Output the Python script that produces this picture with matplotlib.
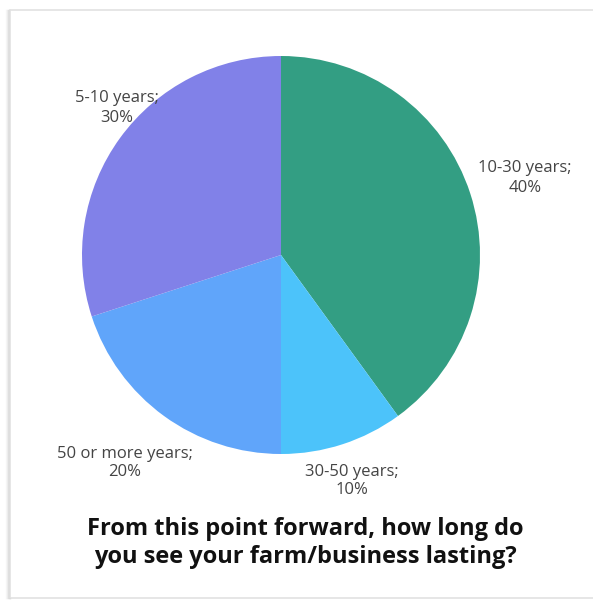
import matplotlib
matplotlib.use("Agg")
import matplotlib.pyplot as plt
from matplotlib.patches import Rectangle

categories = ["10-30 years", "30-50 years", "50 or more years", "5-10 years"]
shares = [40, 10, 20, 30]
colors = ["#339e83", "#4cc3fa", "#60a5fa", "#8181e8"]

W, H = 593, 600
fig = plt.figure(figsize=(W / 100, H / 100), dpi=100)
ax = fig.add_axes([0, 0, 1, 1])

# card with a soft shadow along the left edge
for i, a in enumerate([0.05, 0.10, 0.18, 0.30, 0.45]):
    ax.plot([6 + i, 6 + i], [2, H - 10], color="#808080", alpha=a, lw=1, zorder=1)
ax.add_patch(Rectangle((10, 2), W, H - 12, facecolor="white",
                       edgecolor="#e2e2e2", lw=1.2, zorder=2))

ax.pie(shares, colors=colors, startangle=90, counterclock=False,
       center=(281, H - 255), radius=199, frame=True,
       wedgeprops=dict(linewidth=0, zorder=3))
ax.set_xlim(0, W)
ax.set_ylim(0, H)
ax.set_aspect("auto")
ax.axis("off")

label_pos = [(525, H - 178), (352, H - 481), (125, H - 463), (117, H - 108)]
for cat, val, (x, y) in zip(categories, shares, label_pos):
    ax.text(x, y, f"{cat};\n{val}%", ha="center", va="center",
            fontsize=12, family="Open Sans", color="#444444",
            linespacing=1.25, zorder=5)

ax.text(305, H - 543, "From this point forward, how long do\nyou see your farm/business lasting?",
        ha="center", va="center", fontsize=17, family="Open Sans",
        fontweight="bold", color="#111111", linespacing=1.25, zorder=5)

fig.savefig("out.png", dpi=100)
